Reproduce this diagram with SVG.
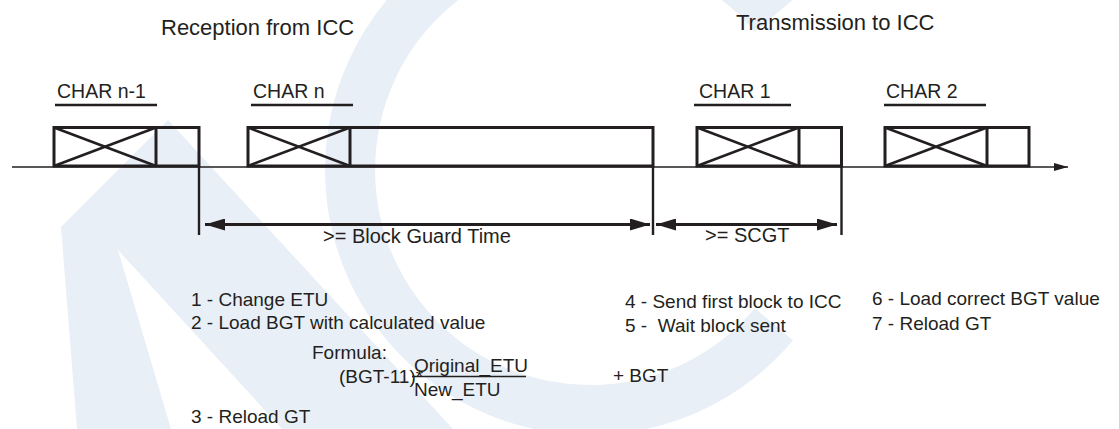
<svg xmlns="http://www.w3.org/2000/svg" width="1119" height="429" viewBox="0 0 1119 429">
  <style>
    text { font-family: "Liberation Sans", Arial, sans-serif; fill: #231f20; }
    .title { font-size: 22px; }
    .lbl { font-size: 19.5px; }
    .body { font-size: 19px; }
    .dim { font-size: 20px; }
    .box { fill: none; stroke: #231f20; stroke-width: 3; }
    .x { stroke: #231f20; stroke-width: 2.6; }
    .ul { stroke: #231f20; stroke-width: 2.4; }
    .vl { stroke: #231f20; stroke-width: 2.4; fill: none; }
    .axis { stroke: #231f20; stroke-width: 1.3; fill: none; }
    .dimline { stroke: #231f20; stroke-width: 2.8; fill: none; }
    .wm { fill: #e9eff7; }
    .wmc { fill: none; stroke: #e9eff7; stroke-width: 50; }
  </style>
  <defs>
    <marker id="ah" markerUnits="userSpaceOnUse" markerWidth="20" markerHeight="12" refX="20" refY="6" orient="auto-start-reverse">
      <path d="M0,0 L20,6 L0,12 Z" fill="#231f20"/>
    </marker>
    <marker id="axh" markerUnits="userSpaceOnUse" markerWidth="14" markerHeight="8" refX="14" refY="4" orient="auto">
      <path d="M0,0 L14,4 L0,8 Z" fill="#231f20"/>
    </marker>
  </defs>
  <rect width="1119" height="429" fill="#ffffff"/>

  <g id="watermark">
    <path class="wm" fill-rule="evenodd" d="M77,429 L61,227 L168,120 L453,429 Z M171,429 L118,250 L282,429 Z"/>
    <path class="wmc" d="M773.9,15.7 A240,240 0 1 0 773.9,324.3"/>
  </g>

  <g id="titles">
    <text class="title" x="161" y="35">Reception from ICC</text>
    <text class="title" x="736" y="30">Transmission to ICC</text>
  </g>

  <g id="char-n-1">
    <text class="lbl" x="57" y="97.5">CHAR n-1</text>
    <line class="ul" x1="55" y1="105" x2="157" y2="105"/>
    <rect class="box" x="54" y="127.5" width="145" height="38.5"/>
    <line class="box" x1="156" y1="127.5" x2="156" y2="166"/>
    <line class="x" x1="54" y1="127.5" x2="156" y2="166"/>
    <line class="x" x1="54" y1="166" x2="156" y2="127.5"/>
  </g>

  <g id="char-n">
    <text class="lbl" x="253" y="97.5">CHAR n</text>
    <line class="ul" x1="251" y1="105" x2="353" y2="105"/>
    <rect class="box" x="248" y="127.5" width="405" height="38.5"/>
    <line class="box" x1="350" y1="127.5" x2="350" y2="166"/>
    <line class="x" x1="248" y1="127.5" x2="350" y2="166"/>
    <line class="x" x1="248" y1="166" x2="350" y2="127.5"/>
  </g>

  <g id="char-1">
    <text class="lbl" x="699" y="97.5">CHAR 1</text>
    <line class="ul" x1="694" y1="105" x2="791" y2="105"/>
    <rect class="box" x="697" y="127.5" width="144.5" height="38.5"/>
    <line class="box" x1="799" y1="127.5" x2="799" y2="166"/>
    <line class="x" x1="697" y1="127.5" x2="799" y2="166"/>
    <line class="x" x1="697" y1="166" x2="799" y2="127.5"/>
  </g>

  <g id="char-2">
    <text class="lbl" x="886" y="97.5">CHAR 2</text>
    <line class="ul" x1="884" y1="105" x2="986" y2="105"/>
    <rect class="box" x="885" y="127.5" width="144" height="38.5"/>
    <line class="box" x1="987" y1="127.5" x2="987" y2="166"/>
    <line class="x" x1="885" y1="127.5" x2="987" y2="166"/>
    <line class="x" x1="885" y1="166" x2="987" y2="127.5"/>
  </g>

  <g id="connectors">
    <line class="axis" x1="12" y1="167" x2="1068" y2="167" marker-end="url(#axh)"/>
    <line class="vl" x1="199" y1="166" x2="199" y2="235"/>
    <line class="vl" x1="653" y1="166" x2="653" y2="235"/>
    <line class="vl" x1="841.5" y1="166" x2="841.5" y2="235"/>
    <line class="dimline" x1="205" y1="224.5" x2="650" y2="224.5" marker-start="url(#ah)" marker-end="url(#ah)"/>
    <line class="dimline" x1="656" y1="224.5" x2="837" y2="224.5" marker-start="url(#ah)" marker-end="url(#ah)"/>
  </g>

  <g id="dim-labels">
    <text class="dim" x="323" y="243">&gt;= Block Guard Time</text>
    <text class="dim" x="705" y="242">&gt;= SCGT</text>
  </g>

  <g id="steps-reception">
    <text class="body" x="191" y="306">1 - Change ETU</text>
    <text class="body" x="191" y="329">2 - Load BGT with calculated value</text>
    <text class="body" x="312" y="359">Formula:</text>
    <text class="body" x="339" y="383">(BGT-11)*</text>
    <text class="body" x="414" y="372">Original_ETU</text>
    <line stroke="#231f20" stroke-width="1.5" x1="412" y1="376.5" x2="526" y2="376.5"/>
    <text class="body" x="414" y="396">New_ETU</text>
    <text class="body" x="613" y="382">+ BGT</text>
    <text class="body" x="191" y="423">3 - Reload GT</text>
  </g>

  <g id="steps-transmission">
    <text class="body" x="625" y="308">4 - Send first block to ICC</text>
    <text class="body" x="625" y="332" xml:space="preserve">5 -  Wait block sent</text>
    <text class="body" x="872" y="305">6 - Load correct BGT value</text>
    <text class="body" x="872" y="330">7 - Reload GT</text>
  </g>
</svg>
